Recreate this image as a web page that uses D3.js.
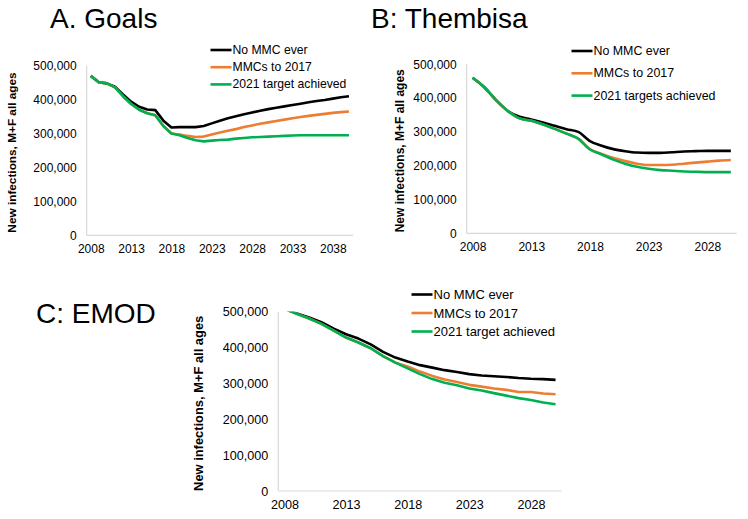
<!DOCTYPE html>
<html>
<head>
<meta charset="utf-8">
<script src="https://cdn.jsdelivr.net/npm/d3@7"></script>
<style>
  body { margin: 0; background: #fff; }
  svg { display: block; font-family: "Liberation Sans", Arial, sans-serif; }
</style>
</head>
<body>
<svg id="chart" width="748" height="519"></svg>
<script>
// new infections, thousands
const goalsYears = [2008,2009,2010,2011,2012,2013,2014,2015,2016,2017,2018,2019,2020,2021,2022,2023,2024,2025,2026,2027,2028,2029,2030,2031,2032,2033,2034,2035,2036,2037,2038,2039,2040];
const goalsNoMMC   = [470,451,448,438,415,394,379,371,369,338,318,319,319,319,322,330,338,345,351,357,362,367,372,376,380,384,388,392,396,399,403,407,410];
const goalsTo2017  = [470,451,448,436,410,387,370,360,354,322,300,297,293,290,291,297,303,308,313,319,324,329,333,337,341,345,349,352,355,358,361,363,365];
const goalsTarget  = [470,451,448,436,410,387,370,360,354,322,300,295,287,280,277,279,281,282,285,287,289,290,291,292,293,294,295,295,295,295,295,295,295];
const goalsTicks = [2008,2013,2018,2023,2028,2033,2038];

const thembYears = [2008,2009,2010,2011,2012,2013,2014,2015,2016,2017,2018,2019,2020,2021,2022,2023,2024,2025,2026,2027,2028,2029,2030];
const thembNoMMC   = [460,432,394,362,345,337,328,318,308,300,273,259,249,243,239,238,238,240,242,243,244,244,244];
const thembTo2017  = [460,432,394,362,340,333,322,309,295,280,249,235,223,214,206,202,202,203,206,209,212,215,217];
const thembTarget  = [460,432,394,362,340,333,322,309,295,280,248,233,218,206,197,191,187,185,183,182,181,181,181];
const thembTicks = [2008,2013,2018,2023,2028];

const emodYears = [2008,2009,2010,2011,2012,2013,2014,2015,2016,2017,2018,2019,2020,2021,2022,2023,2024,2025,2026,2027,2028,2029,2030];
const emodNoMMC   = [508,495,484,471,453,437,425,409,388,372,361,351,344,337,332,326,322,320,318,315,313,312,310];
const emodTo2017  = [508,494,481,466,447,428,414,398,376,358,347,333,321,311,304,296,291,286,282,276,276,272,270];
const emodTarget  = [508,494,481,466,447,428,414,398,376,358,342,326,312,302,295,286,280,273,266,259,254,247,242];
const emodTicks = [2008,2013,2018,2023,2028];

const yTicks = [0,100,200,300,400,500];
const seriesNames = ["No MMC ever", "MMCs to 2017"];
const colors = ["#000000", "#ED7D31", "#00B050"];

const svg = d3.select("#chart");
const fmt = d => d3.format(",")(d * 1000);

function panel(cfg) {
  const { id, title, titleX, titleY, x0, x1, yTop, yBot, years, series, ticks,
          curve, legend, fs, lfs, tfs, yTitleX } = cfg;

  const x = d3.scalePoint().domain(years).range([x0, x1]).padding(0.5);
  const y = d3.scaleLinear().domain([0, 500]).range([yBot, yTop]);

  const g = svg.append("g");

  g.append("text")
    .attr("x", titleX).attr("y", titleY)
    .attr("font-size", 28)
    .text(title);

  // axis lines
  g.append("line").attr("x1", x0).attr("x2", x0).attr("y1", yTop).attr("y2", yBot)
    .attr("stroke", "#d9d9d9").attr("stroke-width", 1.2);
  g.append("line").attr("x1", x0).attr("x2", x1).attr("y1", yBot).attr("y2", yBot)
    .attr("stroke", "#d9d9d9").attr("stroke-width", 1.2);

  const yAxis = d3.axisLeft(y).tickValues(yTicks).tickFormat(fmt).tickSize(0).tickPadding(10);
  g.append("g").attr("transform", `translate(${x0},0)`).call(yAxis)
    .call(a => a.select(".domain").remove())
    .selectAll("text").attr("font-size", fs).attr("fill", "#000")
    .attr("font-family", "Liberation Sans, Arial, sans-serif");

  const xAxis = d3.axisBottom(x).tickValues(ticks).tickSize(0).tickPadding(9);
  g.append("g").attr("transform", `translate(0,${yBot})`).call(xAxis)
    .call(a => a.select(".domain").remove())
    .selectAll("text").attr("font-size", fs).attr("fill", "#000")
    .attr("font-family", "Liberation Sans, Arial, sans-serif");

  g.append("text")
    .attr("transform", `translate(${yTitleX},${(yTop + yBot) / 2 + 2}) rotate(-90)`)
    .attr("text-anchor", "middle")
    .attr("dominant-baseline", "middle")
    .attr("font-size", tfs).attr("font-weight", "bold")
    .text("New infections, M+F all ages");

  g.append("clipPath").attr("id", "clip-" + id)
    .append("rect").attr("x", x0).attr("y", yTop).attr("width", x1 - x0).attr("height", yBot - yTop);

  const line = d3.line()
    .x((d, i) => x(years[i]))
    .y(d => y(d))
    .curve(curve);

  g.append("g").attr("clip-path", `url(#clip-${id})`)
    .selectAll("path")
    .data(series)
    .join("path")
    .attr("d", d => line(d))
    .attr("fill", "none")
    .attr("stroke", (d, i) => colors[i])
    .attr("stroke-width", 2.6)
    .attr("stroke-linejoin", "round");

  const lg = g.append("g");
  legend.labels.forEach((lab, i) => {
    const cy = legend.y + i * legend.dy;
    lg.append("line")
      .attr("x1", legend.x).attr("x2", legend.x + 21)
      .attr("y1", cy).attr("y2", cy)
      .attr("stroke", colors[i]).attr("stroke-width", 2.6);
    lg.append("text")
      .attr("x", legend.x + 22).attr("y", cy)
      .attr("dominant-baseline", "central")
      .attr("font-size", lfs)
      .text(lab);
  });
}

panel({
  id: "a", title: "A. Goals", titleX: 50, titleY: 28,
  x0: 86.7, x1: 353, yTop: 65.7, yBot: 235.3,
  years: goalsYears, series: [goalsNoMMC, goalsTo2017, goalsTarget], ticks: goalsTicks,
  curve: d3.curveLinear, fs: 12, lfs: 12.2, tfs: 11.8, yTitleX: 12.5,
  legend: { x: 210.5, y: 50, dy: 17.2, labels: [...seriesNames, "2021 target achieved"] }
});

panel({
  id: "b", title: "B: Thembisa", titleX: 371, titleY: 28,
  x0: 466.7, x1: 736.7, yTop: 64.3, yBot: 233.3,
  years: thembYears, series: [thembNoMMC, thembTo2017, thembTarget], ticks: thembTicks,
  curve: d3.curveMonotoneX, fs: 12, lfs: 12.4, tfs: 12, yTitleX: 401,
  legend: { x: 571.5, y: 51, dy: 22.3, labels: [...seriesNames, "2021 targets achieved"] }
});

panel({
  id: "c", title: "C: EMOD", titleX: 36, titleY: 322.5,
  x0: 278.3, x1: 561.7, yTop: 311.7, yBot: 491,
  years: emodYears, series: [emodNoMMC, emodTo2017, emodTarget], ticks: emodTicks,
  curve: d3.curveLinear, fs: 12.6, lfs: 13, tfs: 12.9, yTitleX: 200,
  legend: { x: 411.5, y: 294.5, dy: 18.5, labels: [...seriesNames, "2021 target achieved"] }
});
</script>
</body>
</html>
